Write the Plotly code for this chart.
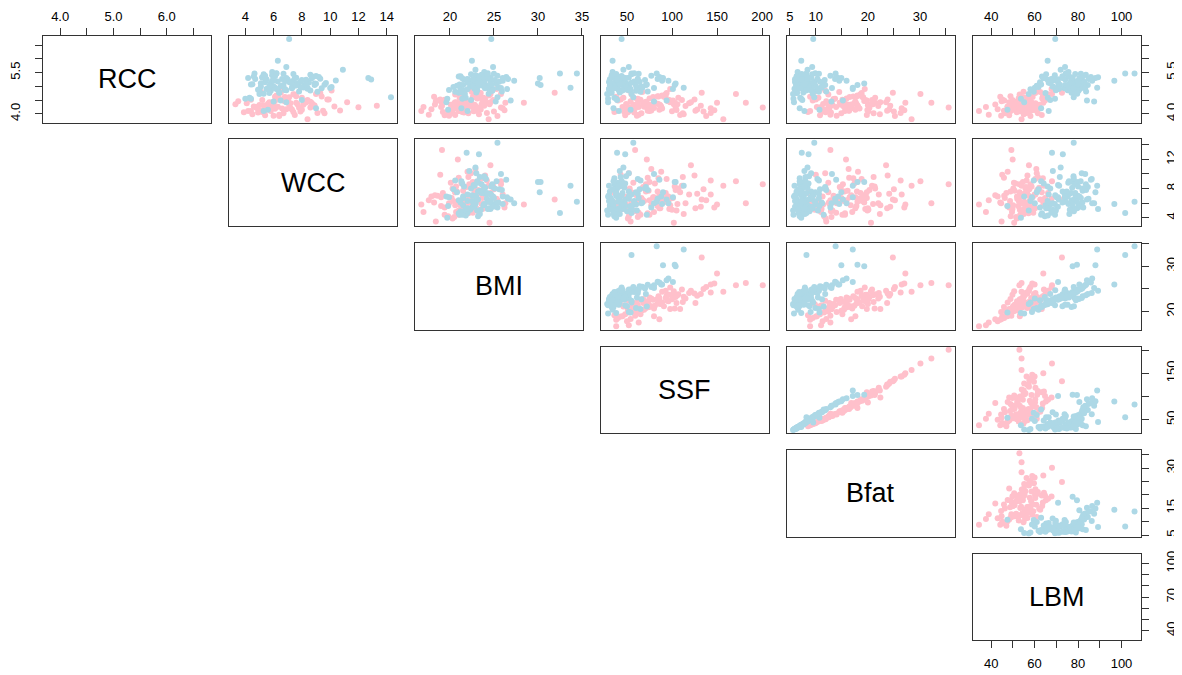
import plotly.graph_objects as go

# ---------------- data (female = pink, male = lightblue) -------------
VARS = ["RCC", "WCC", "BMI", "SSF", "Bfat", "LBM"]

f_rcc = [3.96, 4.41, 4.14, 4.11, 4.45, 4.10, 4.31, 4.42, 4.30, 4.51, 4.40, 4.62, 4.02,
         4.56, 4.33, 4.71, 4.20, 4.48, 4.85, 4.07, 4.38, 4.25, 4.63, 4.18, 4.90, 4.44, 4.29, 4.54, 4.12, 4.67, 4.36, 4.22, 4.79, 4.05, 4.50,
         4.28, 4.16, 4.37, 4.03, 4.46, 4.21, 4.58, 3.92, 4.34, 4.09, 4.42, 4.26, 4.60, 4.13, 4.39, 4.19, 3.98, 4.52, 4.31, 4.08, 4.47, 4.24, 4.35,
         4.55, 4.27, 4.70, 4.15, 4.40, 4.06, 4.61, 4.32, 4.76,
         4.77, 4.20, 4.40, 3.80, 4.72, 4.40, 4.23,
         4.25, 4.48, 4.10, 4.62, 4.33, 3.95, 4.52, 4.17, 4.38, 4.07, 4.46,
         4.58, 4.29, 4.80, 4.15,
         4.27, 4.02, 4.50, 4.11, 4.35, 3.93, 4.64,
         4.10, 4.25, 3.97, 4.34]
f_wcc = [7.5, 8.3, 5.0, 5.3, 6.8, 4.4, 5.3, 5.7, 8.9, 4.4, 7.6, 6.3, 9.6,
         6.4, 8.1, 7.4, 5.9, 6.7, 10.1, 5.2, 7.2, 4.7, 9.4, 6.1, 6.6, 8.6, 5.5, 7.0, 10.7, 6.2, 5.8, 7.8, 6.5, 4.9, 8.4,
         6.0, 7.3, 5.6, 9.1, 6.9, 4.8, 8.0, 6.4, 7.7, 5.1, 11.2, 6.3, 7.1, 5.4, 8.7, 6.6, 4.5, 9.8, 5.7, 7.9, 6.1, 12.0, 5.9,
         6.2, 4.6, 7.5, 5.3, 8.2, 3.9, 6.8, 5.0, 9.3,
         6.5, 7.2, 5.8, 8.4, 9.0, 6.0, 8.6,
         5.6, 7.0, 4.2, 6.1, 8.8, 5.4, 9.9, 6.9, 4.1, 7.4, 3.5,
         6.3, 13.3, 5.1, 8.0,
         10.3, 6.7, 5.2, 9.5, 3.3, 6.0, 7.6,
         5.8, 4.8, 6.4, 7.1]
f_bmi = [20.6, 20.7, 21.9, 21.9, 19.0, 21.0, 21.7, 20.6, 22.6, 19.4, 20.8, 21.2, 22.1,
         23.1, 22.8, 24.6, 21.9, 23.7, 22.4, 21.4, 24.1, 22.6, 23.4, 20.9, 25.3, 22.2, 23.9, 21.7, 22.9, 24.4, 21.1, 23.2, 22.5, 21.6, 24.9,
         22.9, 23.5, 21.8, 24.2, 22.3, 20.7, 23.8, 25.4, 21.5, 22.7, 24.6, 20.4, 23.0, 26.2, 21.3, 22.0, 23.3, 24.0, 21.2, 25.0, 22.4, 20.9, 23.6,
         21.4, 22.1, 20.6, 23.0, 21.9, 20.3, 22.6, 21.0, 23.5,
         31.9, 26.0, 28.4, 24.4, 25.8, 26.3, 25.8,
         19.0, 18.6, 19.8, 18.2, 20.1, 19.4, 18.9, 17.9, 20.5, 19.2, 18.4,
         21.1, 19.1, 21.6, 20.3,
         22.0, 20.2, 23.7, 21.0, 24.5, 19.9, 22.8,
         16.75, 17.0, 17.6, 18.3]
f_ssf = [109, 103, 105, 126, 80, 75, 87, 98, 75, 65, 71, 91, 112,
         75, 68, 93, 59, 101, 52, 47, 119, 63, 85, 55, 98, 71, 132, 61, 77, 89, 49, 104, 67, 58, 111,
         115, 128, 84, 143, 96, 80, 107, 138, 74, 100, 121, 69, 93, 147, 81, 89, 113, 125, 77, 135, 95, 72, 106,
         62, 73, 55, 86, 68, 51, 79, 58, 94,
         133, 143, 150, 157, 171, 182, 200.8,
         45, 40, 52, 38, 57, 48, 43, 50, 62, 36, 54,
         46, 59, 42, 53,
         88, 66, 97, 73, 102, 61, 84,
         38, 52, 63, 86]
f_bfat = [19.8, 21.3, 19.9, 23.7, 17.6, 15.6, 20.0, 22.4, 18.0, 15.1, 15.5, 18.9, 21.1,
          15.9, 14.8, 18.6, 12.6, 19.8, 11.8, 11.1, 22.1, 13.9, 17.2, 12.5, 19.4, 15.2, 24.3, 13.4, 16.3, 18.0, 11.4, 20.3, 14.5, 12.9, 20.8,
          22.0, 24.1, 17.8, 26.3, 19.6, 17.0, 21.4, 25.2, 16.1, 20.1, 23.5, 15.4, 19.1, 27.0, 17.4, 18.4, 22.3, 23.8, 16.7, 25.0, 19.3, 15.8, 21.0,
          13.7, 15.6, 12.4, 17.6, 14.6, 11.9, 16.5, 13.2, 18.8,
          24.8, 26.5, 27.2, 28.4, 30.1, 32.2, 35.52,
          10.2, 9.4, 11.6, 8.9, 12.4, 10.8, 10.0, 11.3, 13.0, 8.5, 12.0,
          10.5, 12.8, 9.8, 11.9,
          18.1, 14.9, 19.5, 16.4, 20.6, 14.0, 17.9,
          8.9, 11.0, 12.8, 16.8]
f_lbm = [63.3, 58.6, 55.4, 57.2, 53.2, 53.8, 60.2, 48.3, 54.6, 53.4, 56.6, 57.8, 61.5,
         63.5, 62.1, 66.2, 58.9, 64.8, 61.0, 55.6, 60.4, 59.4, 63.8, 54.2, 67.8, 58.1, 59.7, 57.3, 60.8, 65.2, 56.7, 61.2, 62.6, 56.1, 64.3,
         54.1, 55.2, 52.4, 56.3, 51.9, 49.6, 55.8, 58.1, 50.8, 53.2, 57.4, 48.7, 54.6, 58.9, 51.2, 52.0, 55.0, 56.7, 50.1, 57.6, 53.8, 49.9, 54.9,
         55.3, 57.2, 53.1, 58.4, 56.0, 51.8, 59.1, 54.4, 60.3,
         72.6, 60.0, 64.0, 54.0, 68.0, 54.0, 53.0,
         47.5, 46.0, 49.0, 44.2, 50.5, 48.3, 45.1, 43.0, 51.5, 47.0, 44.8,
         52.7, 49.3, 54.9, 50.2,
         47.6, 46.3, 49.8, 45.9, 50.6, 44.6, 48.9,
         34.4, 37.6, 38.9, 41.9]

m_rcc = [5.10, 4.92, 5.28, 4.77, 5.05, 4.86, 5.33, 4.98, 5.16, 4.45, 5.42, 4.88,
         5.47, 5.47, 4.95, 5.10, 5.05, 5.30, 4.90, 5.20,
         5.02, 5.20, 4.84, 5.35, 4.95, 5.12, 4.73, 5.25, 5.46, 4.96, 5.08, 4.81, 5.18, 5.38, 4.90,
         5.22, 4.99, 5.31, 4.58, 5.14, 5.48, 4.76, 5.06, 5.27, 4.93, 5.40, 5.00, 4.50,
         5.15, 4.87, 5.30, 5.02, 4.72, 5.24, 4.95, 5.36, 4.80, 5.12, 4.42, 5.44, 4.98, 5.07, 4.89, 5.21, 4.15, 4.55,
         5.05, 5.32, 4.91, 5.19, 5.52, 4.55, 5.09, 5.37, 4.96, 5.26, 4.78,
         5.13, 4.86, 5.29, 4.99,
         5.17, 4.90, 5.34, 5.01, 5.23, 4.48, 5.45, 4.94, 5.11, 5.30, 4.85, 5.20, 5.04, 5.39, 4.93, 5.27, 5.08,
         6.72, 5.93, 4.60, 5.30, 5.25, 5.60, 5.70, 4.10, 4.20]
m_wcc = [7.7, 5.6, 9.3, 6.4, 8.2, 6.9, 5.2, 10.1, 7.1, 6.0, 8.6, 4.9,
         6.2, 4.65, 8.4, 8.9, 8.9, 7.5, 6.8, 5.9,
         6.6, 7.4, 5.8, 8.8, 6.1, 9.7, 5.3, 7.0, 6.7, 8.1, 4.5, 7.8, 6.3, 9.0, 5.5,
         6.8, 5.1, 7.6, 4.3, 8.5, 6.2, 5.7, 9.6, 4.7, 7.3, 5.9, 6.5, 8.0,
         5.4, 6.8, 4.2, 7.5, 5.0, 8.3, 6.0, 4.6, 9.1, 5.8, 6.9, 5.3, 7.9, 4.4, 6.3, 10.4, 5.6, 4.0,
         6.7, 5.2, 8.4, 7.0, 5.9, 4.4, 9.0, 6.1, 7.3, 5.5, 6.4,
         7.2, 5.0, 8.7, 6.0,
         7.9, 6.2, 9.2, 5.7, 8.0, 6.5, 7.4, 10.0, 5.1, 6.9, 8.6, 6.0, 7.6, 5.4, 9.4, 6.6, 8.3,
         7.1, 6.3, 14.3, 12.7, 12.9, 10.9, 6.9, 5.3, 9.0]
m_bmi = [23.4, 22.8, 24.1, 21.0, 23.9, 21.5, 24.6, 23.0, 22.5, 25.2, 23.6, 21.2,
         34.42, 32.5, 33.7, 30.0, 30.3, 30.2, 26.5, 26.0,
         24.2, 23.6, 24.8, 23.2, 25.5, 23.9, 24.4, 22.9, 25.0, 24.0, 23.4, 25.9, 24.6, 23.1, 24.9,
         23.0, 22.3, 23.8, 21.8, 22.7, 24.3, 21.5, 23.4, 22.0, 24.6, 22.9, 23.2, 22.4,
         22.5, 19.9, 23.2, 20.8, 21.7, 21.6, 22.9, 21.0, 20.6, 23.9, 19.6, 22.4, 20.4, 21.1, 22.0, 22.2, 19.8, 19.7,
         21.5, 24.3, 22.8, 22.9, 23.9, 21.4, 25.3, 21.2, 24.0, 22.6, 23.0,
         22.0, 23.1, 21.4, 22.7,
         25.6, 24.5, 26.4, 23.8, 25.1, 26.9, 24.2, 25.8, 23.5, 26.0, 24.8, 27.3, 23.2, 25.4, 24.0, 26.6, 24.7,
         24.7, 22.5, 25.4, 23.3, 21.9, 22.9, 24.9, 22.0, 21.3]
m_ssf = [38, 48, 62, 33, 71, 41, 45, 52, 30, 80, 36, 50,
         83, 55, 113, 104, 103, 90, 101, 89,
         52, 45, 60, 40, 67, 49, 55, 38, 63, 47, 42, 73, 58, 44, 54,
         40, 34, 52, 36, 46, 58, 31, 43, 38, 62, 33, 48, 39,
         31, 52, 36, 60, 28, 40, 47, 35, 65, 44, 29, 55, 34, 72, 30, 42, 54, 38,
         32, 36, 30, 40, 34, 29, 44, 33, 38, 31, 42,
         55, 61, 48, 66,
         64, 40, 86, 35, 70, 94, 38, 80, 33, 88, 45, 96, 31, 77, 36, 84, 42,
         44, 34, 57, 48, 39, 46, 52, 41, 35]
m_bfat = [7.2, 8.6, 10.3, 6.4, 11.8, 7.7, 8.0, 9.1, 6.0, 13.0, 6.9, 8.8,
          13.8, 8.2, 17.1, 19.3, 18.0, 14.9, 17.1, 14.5,
          9.0, 8.2, 10.0, 7.6, 11.1, 8.7, 9.4, 7.3, 10.6, 8.4, 7.9, 12.0, 9.7, 8.0, 9.2,
          7.5, 6.7, 9.1, 7.0, 8.3, 9.9, 6.3, 8.0, 7.2, 10.6, 6.5, 8.6, 7.4,
          6.2, 9.0, 6.9, 9.9, 5.63, 7.5, 8.2, 6.7, 10.6, 8.0, 5.8, 9.3, 6.6, 11.5, 6.0, 7.8, 10.7, 7.2,
          6.2, 6.8, 5.9, 7.4, 6.5, 5.7, 7.9, 6.3, 7.0, 6.0, 7.6,
          9.5, 10.4, 8.6, 11.2,
          10.8, 7.6, 13.9, 7.0, 11.7, 15.2, 7.3, 13.1, 6.6, 14.3, 8.1, 15.9, 6.3, 12.8, 6.9, 13.7, 7.8,
          9.5, 7.2, 9.7, 8.6, 7.3, 8.4, 9.3, 7.8, 6.9]
m_lbm = [82.1, 80.4, 86.3, 77.0, 84.5, 75.2, 89.2, 81.7, 79.0, 87.4, 83.6, 78.1,
         106.0, 101.7, 88.8, 77.5, 79.5, 88.0, 70.8, 96.7,
         78.5, 76.8, 80.2, 75.5, 82.0, 77.9, 79.6, 74.1, 81.3, 77.3, 76.0, 83.7, 79.1, 75.8, 80.8,
         70.2, 68.5, 72.9, 66.1, 70.8, 74.4, 65.0, 71.6, 67.7, 73.8, 69.3, 71.1, 67.2,
         62.5, 58.8, 64.7, 61.0, 57.3, 66.0, 60.1, 63.4, 59.6, 67.2, 55.2, 65.3, 61.8, 63.0, 58.1, 68.4, 47.5, 53.7,
         74.0, 77.5, 71.3, 79.8, 75.6, 69.4, 81.2, 72.8, 76.1, 70.7, 78.4,
         66.5, 69.8, 64.2, 68.3,
         82.8, 79.5, 85.9, 77.4, 81.9, 84.1, 78.7, 83.3, 76.2, 80.6, 79.0, 86.5, 74.8, 82.4, 78.0, 84.8, 80.0,
         69.5, 66.0, 78.0, 73.0, 68.0, 72.0, 74.0, 66.5, 63.0]

# tick marks and which labels are printed (R drops labels that would collide)
top_tickvals = {"RCC": [4.0, 4.5, 5.0, 5.5, 6.0, 6.5], "WCC": [4, 6, 8, 10, 12, 14],
                "BMI": [20, 25, 30, 35], "SSF": [50, 100, 150, 200],
                "Bfat": [5, 10, 15, 20, 25, 30, 35], "LBM": [40, 50, 60, 70, 80, 90, 100]}
top_ticktext = {"RCC": ["4.0", "", "5.0", "", "6.0", ""], "WCC": ["4", "6", "8", "10", "12", "14"],
                "BMI": ["20", "25", "30", "35"], "SSF": ["50", "100", "150", "200"],
                "Bfat": ["5", "10", "", "20", "", "30", ""], "LBM": ["40", "", "60", "", "80", "", "100"]}
side_ticktext = {"RCC": ["4.0", "", "", "5.5", "", ""], "WCC": ["4", "", "8", "", "12", ""],
                 "BMI": ["20", "", "30", ""], "SSF": ["50", "", "150", ""],
                 "Bfat": ["5", "", "15", "", "", "30", ""], "LBM": ["40", "", "", "70", "", "", "100"]}

female = {"RCC": f_rcc, "WCC": f_wcc, "BMI": f_bmi, "SSF": f_ssf, "Bfat": f_bfat, "LBM": f_lbm}
male = {"RCC": m_rcc, "WCC": m_wcc, "BMI": m_bmi, "SSF": m_ssf, "Bfat": m_bfat, "LBM": m_lbm}

# ---------------- layout ----------------
W, H = 1182, 675
DX, DY = -6, -8          # compensate for the page's body margin
LEFT0, COLSTEP, PW = 40.5 + DX, 187.0, 169
TOP0, ROWSTEP, PH = 33 + DY, 104, 87
LINE = "#333333"
FONT = "Liberation Sans, Arial, sans-serif"
TICKFONT = dict(family=FONT, size=13, color="#000000")
PINK, BLUE = "#FFC0CB", "#ADD8E6"

rng = {}
for v in VARS:
    vals = female[v] + male[v]
    lo, hi = min(vals), max(vals)
    pad = 0.04 * (hi - lo)
    rng[v] = [lo - pad, hi + pad]

fig = go.Figure()
layout = dict(width=W, height=H, margin=dict(l=0, r=0, t=0, b=0),
              paper_bgcolor="white", plot_bgcolor="white", showlegend=False,
              annotations=[])

k = 0
for i in range(6):
    for j in range(i, 6):
        k += 1
        xname = "xaxis" if k == 1 else f"xaxis{k}"
        yname = "yaxis" if k == 1 else f"yaxis{k}"
        xref = "x" if k == 1 else f"x{k}"
        yref = "y" if k == 1 else f"y{k}"
        px0 = LEFT0 + j * COLSTEP
        py0 = TOP0 + i * ROWSTEP
        x0, x1 = px0 / W, (px0 + PW) / W
        y1, y0 = 1 - py0 / H, 1 - (py0 + PH) / H
        xv, yv = VARS[j], VARS[i]

        xa = dict(domain=[x0, x1], range=rng[xv], anchor=yref, showline=True, mirror=True,
                  linecolor=LINE, linewidth=1, showgrid=False, zeroline=False,
                  ticks="", showticklabels=False, fixedrange=True)
        ya = dict(domain=[y0, y1], range=rng[yv], anchor=xref, showline=True, mirror=True,
                  linecolor=LINE, linewidth=1, showgrid=False, zeroline=False,
                  ticks="", showticklabels=False, fixedrange=True)
        tick_common = dict(ticks="outside", ticklen=7, tickwidth=1, tickcolor=LINE,
                           showticklabels=True, tickfont=TICKFONT)
        if i == 0:
            xa.update(side="top", tickvals=top_tickvals[xv], ticktext=top_ticktext[xv],
                      ticklabelstandoff=2, **tick_common)
        if i == 5 and j == 5:
            xa.update(side="bottom", tickvals=top_tickvals[xv], ticktext=top_ticktext[xv],
                      ticklabelstandoff=4, **tick_common)
        if j == 5:
            ya.update(side="right", tickvals=top_tickvals[yv], ticktext=side_ticktext[yv],
                      tickangle=-90, ticklabelstandoff=12, **tick_common)
        if i == 0 and j == 0:
            ya.update(side="left", tickvals=top_tickvals[yv], ticktext=side_ticktext[yv],
                      tickangle=-90, ticklabelstandoff=10, **tick_common)
        layout[xname] = xa
        layout[yname] = ya

        if i == j:
            layout["annotations"].append(dict(
                text=VARS[i], x=(x0 + x1) / 2, y=(y0 + y1) / 2, xref="paper", yref="paper",
                showarrow=False, font=dict(family=FONT, size=27, color="#000000"),
                xanchor="center", yanchor="middle"))
            # invisible placeholder so the empty diagonal panel's box and axes are drawn
            fig.add_trace(go.Scatter(x=[sum(rng[xv]) / 2], y=[sum(rng[yv]) / 2], mode="markers",
                                     xaxis=xref, yaxis=yref, marker=dict(opacity=0),
                                     hoverinfo="skip"))
        else:
            for grp, col in ((female, PINK), (male, BLUE)):
                fig.add_trace(go.Scatter(
                    x=grp[xv], y=grp[yv], mode="markers", xaxis=xref, yaxis=yref,
                    marker=dict(size=6, color=col, line=dict(width=0)),
                    hoverinfo="skip"))

fig.update_layout(**layout)
fig.write_html("out.html")
